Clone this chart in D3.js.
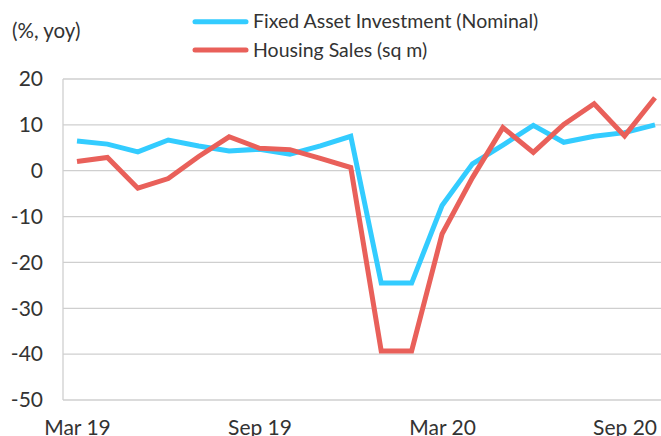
<!DOCTYPE html>
<html>
<head>
<meta charset="utf-8">
<script src="https://cdn.jsdelivr.net/npm/d3@7"></script>
<style>
  body { margin: 0; background: #fff; }
  svg { display: block; font-family: Lato, "Open Sans", sans-serif; }
  .tick text { fill: #333; }
</style>
</head>
<body>
<svg id="chart" width="661" height="436"></svg>
<script>
const months = ['Mar 19', 'Apr 19', 'May 19', 'Jun 19', 'Jul 19', 'Aug 19', 'Sep 19', 'Oct 19',
  'Nov 19', 'Dec 19', 'Jan 20', 'Feb 20', 'Mar 20', 'Apr 20', 'May 20', 'Jun 20', 'Jul 20',
  'Aug 20', 'Sep 20', 'Oct 20'];
const fixedAsset = [6.5, 5.8, 4.1, 6.7, 5.4, 4.3, 4.7, 3.6, 5.4, 7.5, -24.5, -24.5, -7.6,
  1.5, 5.6, 9.9, 6.2, 7.5, 8.3, 10.0];
const housingSales = [2.0, 2.9, -3.8, -1.7, 3.1, 7.4, 4.9, 4.6, 2.7, 0.7, -39.3, -39.3, -13.8,
  -1.5, 9.4, 4.0, 10.1, 14.6, 7.6, 15.9];
const yTicks = [20, 10, 0, -10, -20, -30, -40, -50];
const xTickLabels = ['Mar 19', 'Sep 19', 'Mar 20', 'Sep 20'];
const seriesNames = ['Fixed Asset Investment (Nominal)', 'Housing Sales (sq m)'];

const colors = ['#33ccff', '#e9605a'];
const svg = d3.select('#chart');

const x = d3.scalePoint().domain(months).range([77, 655]);
const y = d3.scaleLinear().domain([-50, 20]).range([400, 79]);

// grid lines
svg.append('g')
  .selectAll('line')
  .data(yTicks)
  .join('line')
  .attr('x1', 63)
  .attr('x2', 661)
  .attr('y1', d => y(d))
  .attr('y2', d => y(d))
  .attr('stroke', '#cfcfcf')
  .attr('stroke-width', 1.3);

svg.append('line')
  .attr('x1', 63).attr('x2', 63)
  .attr('y1', y(20)).attr('y2', y(-50))
  .attr('stroke', '#cfcfcf')
  .attr('stroke-width', 1.3);

// y axis labels (plain hyphen, like the original)
const yAxis = d3.axisLeft(y).tickValues(yTicks).tickSize(0).tickPadding(0)
  .tickFormat(d => String(d));
svg.append('g')
  .attr('transform', 'translate(43,0)')
  .call(yAxis)
  .call(g => g.select('.domain').remove())
  .selectAll('text')
  .attr('font-size', 21)
  .attr('font-family', 'Lato, sans-serif');

// x axis labels (cut at the bottom edge, as in the original)
const xAxis = d3.axisBottom(x).tickValues(xTickLabels).tickSize(0).tickPadding(0);
svg.append('g')
  .attr('transform', 'translate(0,420)')
  .call(xAxis)
  .call(g => g.select('.domain').remove())
  .selectAll('text')
  .attr('font-size', 21)
  .attr('font-family', 'Lato, sans-serif');

const line = d3.line()
  .x((d, i) => x(months[i]))
  .y(d => y(d));

[fixedAsset, housingSales].forEach((vals, i) => {
  svg.append('path')
    .datum(vals)
    .attr('d', line)
    .attr('fill', 'none')
    .attr('stroke', colors[i])
    .attr('stroke-width', 5)
    .attr('stroke-linejoin', 'miter');
});

// unit label
svg.append('text')
  .attr('x', 12)
  .attr('y', 38)
  .attr('font-size', 20.5)
  .attr('fill', '#333')
  .text('(%, yoy)');

// legend
const legend = svg.append('g');
seriesNames.forEach((name, i) => {
  const ly = 21.7 + i * 28.3;
  legend.append('line')
    .attr('x1', 195).attr('x2', 246)
    .attr('y1', ly).attr('y2', ly)
    .attr('stroke', colors[i])
    .attr('stroke-width', 5)
    .attr('stroke-linecap', 'round');
  legend.append('text')
    .attr('x', 253)
    .attr('y', ly + 6.6)
    .attr('font-size', 19.5)
    .attr('fill', '#333')
    .text(name);
});
</script>
</body>
</html>
